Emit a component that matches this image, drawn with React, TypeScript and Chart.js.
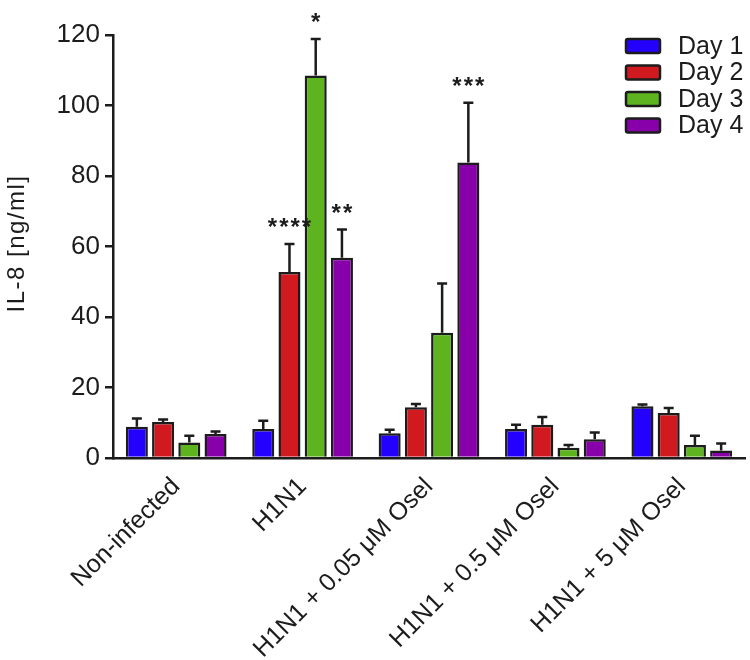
import React, { useEffect, useRef } from 'react';
import { Chart, registerables } from 'chart.js';

Chart.register(...registerables);

const categories = ['Non-infected', 'H1N1', 'H1N1 + 0.05 μM Osel', 'H1N1 + 0.5 μM Osel', 'H1N1 + 5 μM Osel'];
const seriesNames = ['Day 1', 'Day 2', 'Day 3', 'Day 4'];

const day1 = [8.9, 8.2, 7.0, 8.2, 14.7];
const day2 = [10.2, 52.8, 14.4, 9.4, 12.8];
const day3 = [4.4, 108.5, 35.5, 2.9, 3.7];
const day4 = [6.8, 56.8, 83.8, 5.3, 2.1];

const day1Err = [2.3, 2.4, 1.0, 1.2, 0.5];
const day2Err = [0.7, 7.9, 0.9, 2.2, 1.4];
const day3Err = [1.9, 10.4, 14.0, 0.8, 2.6];
const day4Err = [0.7, 8.0, 17.0, 1.9, 2.0];

const day1Sig = ['', '', '', '', ''];
const day2Sig = ['', '****', '', '', ''];
const day3Sig = ['', '*', '', '', ''];
const day4Sig = ['', '**', '***', '', ''];

const yMin = 0;
const yMax = 120;
const yStep = 20;
const yTitle = 'IL-8 [ng/ml]';

const colors = ['#2400ff', '#d01a20', '#5db41f', '#8800aa'];
const FONT = '"Liberation Sans", Arial, Helvetica, sans-serif';
const INK = '#1c1c1c';

const values = [day1, day2, day3, day4];
const errors = [day1Err, day2Err, day3Err, day4Err];
const sigs = [day1Sig, day2Sig, day3Sig, day4Sig];

const annotatePlugin = {
  id: 'annotate',
  afterDatasetsDraw(chart: any) {
    const ctx = chart.ctx;
    const y = chart.scales.y;
    chart.data.datasets.forEach((ds: any, i: number) => {
      const meta = chart.getDatasetMeta(i);
      meta.data.forEach((bar: any, j: number) => {
        const v = ds.data[j];
        const e = errors[i][j];
        const yTop = y.getPixelForValue(v);
        const yErr = y.getPixelForValue(v + e);
        ctx.save();
        ctx.strokeStyle = INK;
        ctx.lineWidth = 2.5;
        ctx.beginPath();
        ctx.moveTo(bar.x, yTop);
        ctx.lineTo(bar.x, yErr);
        ctx.moveTo(bar.x - 5, yErr);
        ctx.lineTo(bar.x + 5, yErr);
        ctx.stroke();
        const s = sigs[i][j];
        if (s) {
          ctx.fillStyle = INK;
          ctx.font = `bold 24px ${FONT}`;
          (ctx as any).letterSpacing = '2px';
          ctx.textAlign = 'center';
          ctx.textBaseline = 'alphabetic';
          ctx.fillText(s, bar.x + 1, yErr - 9);
        }
        ctx.restore();
      });
    });
  },
  afterDraw(chart: any) {
    const ctx = chart.ctx;
    const area = chart.chartArea;
    // y-axis title
    ctx.save();
    ctx.translate(17, (area.top + area.bottom) / 2 - 3);
    ctx.rotate(-Math.PI / 2);
    ctx.fillStyle = INK;
    ctx.font = `24px ${FONT}`;
    (ctx as any).letterSpacing = '1.5px';
    ctx.textAlign = 'center';
    ctx.textBaseline = 'middle';
    ctx.fillText(yTitle, 0, 0);
    ctx.restore();
    // legend
    const boxLeft = area.right - 119;
    const top = area.top + 4;
    const rowH = 26.5;
    chart.data.datasets.forEach((ds: any, i: number) => {
      const yTop = top + i * rowH;
      ctx.save();
      ctx.fillStyle = ds.backgroundColor;
      ctx.strokeStyle = INK;
      ctx.lineWidth = 2.5;
      ctx.beginPath();
      (ctx as any).roundRect(boxLeft, yTop, 34, 14, 2);
      ctx.fill();
      ctx.stroke();
      ctx.fillStyle = INK;
      ctx.font = `25px ${FONT}`;
      ctx.textAlign = 'left';
      ctx.textBaseline = 'middle';
      ctx.fillText(ds.label, boxLeft + 52, yTop + 8);
      ctx.restore();
    });
  },
};

export default function App() {
  const ref = useRef<HTMLCanvasElement | null>(null);

  useEffect(() => {
    document.body.style.margin = '0';
    const canvas = ref.current;
    if (!canvas) return;
    const chart = new Chart(canvas, {
      type: 'bar',
      data: {
        labels: categories,
        datasets: seriesNames.map((name, i) => ({
          label: name,
          data: values[i],
          backgroundColor: colors[i],
          borderColor: INK,
          borderWidth: 2.5,
          categoryPercentage: 0.83,
          barPercentage: 0.84,
        })),
      },
      options: {
        responsive: false,
        animation: false,
        layout: { padding: { left: 0, right: 5, top: 35, bottom: 0 } },
        plugins: {
          legend: { display: false },
          tooltip: { enabled: false },
        },
        scales: {
          x: {
            afterFit: (s: any) => { s.height = 202; },
            grid: { display: false, drawTicks: false },
            border: { display: true, color: INK, width: 2.5 },
            ticks: {
              autoSkip: false,
              maxRotation: 45,
              minRotation: 45,
              color: INK,
              padding: 14,
              font: { family: FONT, size: 25 },
            },
          },
          y: {
            min: yMin,
            max: yMax,
            afterFit: (s: any) => { s.width = 113; },
            border: { display: true, color: INK, width: 2.5 },
            grid: { drawOnChartArea: false, drawTicks: true, tickLength: 8, color: INK, lineWidth: 2.5 },
            ticks: {
              stepSize: yStep,
              color: INK,
              padding: 5,
              font: { family: FONT, size: 26 },
            },
            title: { display: false },
          },
        },
      },
      plugins: [annotatePlugin],
    });
    return () => chart.destroy();
  }, []);

  return (
    <div style={{ width: 750, height: 660, background: '#fff' }}>
      <canvas ref={ref} width={750} height={660} style={{ display: 'block' }} />
    </div>
  );
}
